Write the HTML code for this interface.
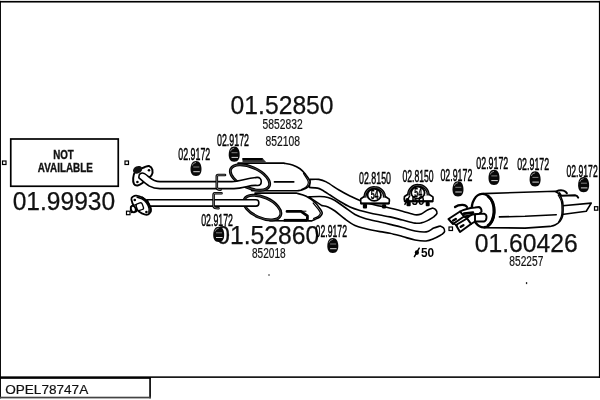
<!DOCTYPE html>
<html><head><meta charset="utf-8">
<style>
html,body{margin:0;padding:0;background:#fff;}
body{width:600px;height:400px;overflow:hidden;font-family:"Liberation Sans",sans-serif;}
svg{display:block;position:absolute;left:0;top:0;will-change:transform;}
text{font-family:"Liberation Sans",sans-serif;fill:#111;}
.big{font-size:25.2px;stroke:#111;stroke-width:0.25;}
.sm{font-size:13.8px;fill:#111;stroke:#111;stroke-width:0.2;}
.lb{font-size:16.3px;stroke:#000;stroke-width:0.45;fill:#000;}
.p{fill:#fff;stroke:#000;stroke-width:1.6;stroke-linejoin:round;stroke-linecap:round;}
.l{fill:none;stroke:#000;stroke-width:1.6;stroke-linejoin:round;stroke-linecap:round;}
</style></head><body>
<svg width="600" height="400" viewBox="0 0 600 400">
<rect x="0" y="0" width="600" height="400" fill="#fff"/>
<rect x="0" y="0.9" width="600" height="1.65" fill="#000"/>
<rect x="0" y="0.9" width="0.95" height="397.5" fill="#000"/>
<rect x="598.9" y="0.9" width="1.1" height="377" fill="#000"/>
<rect x="0" y="376.35" width="600" height="1.55" fill="#000"/>
<rect x="0" y="377" width="150.9" height="1.85" fill="#000"/>
<rect x="149.25" y="377" width="1.65" height="21.3" fill="#000"/>
<rect x="0" y="396.7" width="150.9" height="1.7" fill="#444"/>
<text x="5.2" y="393.7" font-size="13.6" stroke="#111" stroke-width="0.2" textLength="83" lengthAdjust="spacingAndGlyphs">OPEL78747A</text>
<rect x="10.75" y="139" width="107.5" height="47.25" fill="#fff" stroke="#000" stroke-width="1.7"/>
<text x="53.2" y="159.1" font-size="12.2" font-weight="bold" stroke="#111" stroke-width="0.35" textLength="20.6" lengthAdjust="spacingAndGlyphs">NOT</text>
<text x="37.8" y="171.8" font-size="12.2" font-weight="bold" stroke="#111" stroke-width="0.35" textLength="55" lengthAdjust="spacingAndGlyphs">AVAILABLE</text>
<text class="big" x="12.7" y="210.2" textLength="102.5" lengthAdjust="spacingAndGlyphs">01.99930</text>
<g fill="#fff" stroke="#000" stroke-width="1.2">
<rect x="2.5" y="161" width="3.5" height="3.5"/>
<rect x="125" y="161" width="3.5" height="3.5"/>
<rect x="126.5" y="211.2" width="3.5" height="3.5"/>
<rect x="449" y="227" width="3.5" height="3.5"/>
<rect x="594.5" y="206.7" width="3.3" height="3.5"/>
</g>
<text class="big" x="230.6" y="114.3" textLength="103" lengthAdjust="spacingAndGlyphs">01.52850</text>
<text class="sm" x="262.6" y="128.6" textLength="40" lengthAdjust="spacingAndGlyphs">5852832</text>
<text class="sm" x="265.6" y="146" textLength="34.4" lengthAdjust="spacingAndGlyphs">852108</text>
<text class="big" x="216.3" y="244.1" textLength="103" lengthAdjust="spacingAndGlyphs">01.52860</text>
<text class="sm" x="252" y="257.6" textLength="33.6" lengthAdjust="spacingAndGlyphs">852018</text>
<text class="big" x="474.8" y="252.2" textLength="103" lengthAdjust="spacingAndGlyphs">01.60426</text>
<text class="sm" x="509.3" y="266" textLength="34" lengthAdjust="spacingAndGlyphs">852257</text>

<text class="lb" x="178.3" y="159.5" textLength="32.0" lengthAdjust="spacingAndGlyphs">02.9172</text>
<text class="lb" x="217.0" y="145.8" textLength="32.0" lengthAdjust="spacingAndGlyphs">02.9172</text>
<text class="lb" x="201.2" y="225.6" textLength="31.8" lengthAdjust="spacingAndGlyphs">02.9172</text>
<text class="lb" x="315.6" y="236.6" textLength="31.4" lengthAdjust="spacingAndGlyphs">02.9172</text>
<text class="lb" x="359.0" y="183.6" textLength="32.0" lengthAdjust="spacingAndGlyphs">02.8150</text>
<text class="lb" x="402.4" y="182.0" textLength="31.2" lengthAdjust="spacingAndGlyphs">02.8150</text>
<text class="lb" x="440.4" y="180.7" textLength="31.9" lengthAdjust="spacingAndGlyphs">02.9172</text>
<text class="lb" x="476.3" y="169.2" textLength="32.0" lengthAdjust="spacingAndGlyphs">02.9172</text>
<text class="lb" x="517.2" y="170.2" textLength="32.0" lengthAdjust="spacingAndGlyphs">02.9172</text>
<text class="lb" x="566.5" y="176.7" textLength="31.2" lengthAdjust="spacingAndGlyphs">02.9172</text>
<defs><g id="rub">
<path d="M0 -7.6 C3.6 -7.6 5.5 -4.2 5.5 0.6 C5.5 4.2 4.3 7.6 0 7.6 C-4.3 7.6 -5.5 4.2 -5.5 0.6 C-5.5 -4.2 -3.6 -7.6 0 -7.6Z" fill="#080808"/>
<path d="M-2.7 -1.5 H3.3" stroke="#ccc" stroke-width="0.6" fill="none"/>
<path d="M-2.7 3.2 H3.8" stroke="#eee" stroke-width="0.9" fill="none"/>
<path d="M-3.8 -2.9 Q-3.4 -5.5 0 -6.1" stroke="#bbb" stroke-width="0.7" fill="none"/>
</g></defs>
<path class="p" d="M310.00 179.40 C311.46 179.40 316.04 178.98 318.75 179.40 C321.46 179.82 322.88 180.13 326.25 181.90 C329.62 183.67 335.04 187.65 339.00 190.00 C342.96 192.35 346.50 194.25 350.00 196.00 C353.50 197.75 355.83 199.00 360.00 200.50 C364.17 202.00 370.42 203.83 375.00 205.00 C379.58 206.17 382.92 206.46 387.50 207.50 C392.08 208.54 397.92 210.04 402.50 211.25 C407.08 212.46 411.88 214.29 415.00 214.75 C418.12 215.21 419.17 214.79 421.25 214.00 C423.33 213.21 425.62 210.98 427.50 210.00 C429.38 209.02 431.67 208.42 432.50 208.10 C433.02 208.35 434.85 208.75 435.60 209.60 C436.35 210.45 437.31 211.98 437.00 213.20 C436.69 214.42 434.29 216.28 433.75 216.90 C432.71 217.52 429.58 219.60 427.50 220.60 C425.42 221.60 423.33 222.48 421.25 222.90 C419.17 223.32 418.12 223.58 415.00 223.10 C411.88 222.62 406.67 221.03 402.50 220.00 C398.33 218.97 393.75 217.73 390.00 216.90 C386.25 216.07 383.33 215.65 380.00 215.00 C376.67 214.35 373.33 213.75 370.00 213.00 C366.67 212.25 363.33 211.50 360.00 210.50 C356.67 209.50 353.33 208.50 350.00 207.00 C346.67 205.50 343.33 203.50 340.00 201.50 C336.67 199.50 333.00 196.92 330.00 195.00 C327.00 193.08 324.08 191.15 322.00 190.00 C319.92 188.85 319.60 188.52 317.50 188.10 C315.40 187.68 310.75 187.60 309.40 187.50 Z"/>
<path class="p" d="M238 163.1 L283.75 163.1 C285.21 163.42 289.79 164.06 292.50 165.00 C295.21 165.94 297.82 167.18 300.00 168.75 C302.18 170.32 304.03 172.53 305.60 174.40 C307.17 176.28 308.67 178.65 309.40 180.00 C310.13 181.35 310.23 181.35 310.00 182.50 C309.77 183.65 309.25 185.68 308.00 186.90 C306.75 188.12 304.25 189.15 302.50 189.80 C300.75 190.45 298.33 190.63 297.50 190.80 L252 190.8 Z"/>
<path class="l" d="M303.50 173.50 C304.18 174.58 306.80 178.42 307.60 180.00 C308.40 181.58 308.50 181.90 308.30 183.00 C308.10 184.10 307.53 185.50 306.40 186.60 C305.27 187.70 302.32 189.10 301.50 189.60" style="stroke-width:1.2"/>
<path class="l" d="M274.4 181.9 H293.75"/>
<path d="M242.5 158 H262.5 L266.5 162.6 H242.5 Z" fill="#3a3a3a" stroke="none"/>
<path d="M242.5 159.1 H262.5" stroke="#000" stroke-width="2.2" fill="none"/>
<path class="p" d="M308.75 196.90 C310.62 196.83 316.79 196.40 320.00 196.50 C323.21 196.60 325.50 196.83 328.00 197.50 C330.50 198.17 332.17 198.83 335.00 200.50 C337.83 202.17 341.67 205.17 345.00 207.50 C348.33 209.83 351.67 212.67 355.00 214.50 C358.33 216.33 360.83 217.25 365.00 218.50 C369.17 219.75 375.83 221.02 380.00 222.00 C384.17 222.98 386.25 223.48 390.00 224.40 C393.75 225.32 398.33 226.40 402.50 227.50 C406.67 228.60 411.04 230.27 415.00 231.00 C418.96 231.73 423.12 232.38 426.25 231.90 C429.38 231.42 431.46 229.08 433.75 228.10 C436.04 227.12 438.96 226.35 440.00 226.00 C440.57 226.30 442.63 226.88 443.40 227.80 C444.17 228.72 444.83 230.40 444.60 231.50 C444.37 232.60 442.43 233.92 442.00 234.40 C440.67 235.10 436.67 237.50 434.00 238.60 C431.33 239.70 429.17 240.77 426.00 241.00 C422.83 241.23 418.92 240.75 415.00 240.00 C411.08 239.25 406.67 237.63 402.50 236.50 C398.33 235.37 393.75 234.02 390.00 233.20 C386.25 232.38 384.17 232.38 380.00 231.60 C375.83 230.82 369.17 229.52 365.00 228.50 C360.83 227.48 358.33 227.08 355.00 225.50 C351.67 223.92 348.33 221.42 345.00 219.00 C341.67 216.58 337.83 213.00 335.00 211.00 C332.17 209.00 330.18 207.90 328.00 207.00 C325.82 206.10 322.92 205.83 321.90 205.60 Z"/>
<path class="p" d="M255 193.1 L296.25 193.1 C297.92 193.62 303.12 194.68 306.25 196.25 C309.38 197.82 312.71 200.42 315.00 202.50 C317.29 204.58 318.79 206.98 320.00 208.75 C321.21 210.52 322.25 211.74 322.25 213.10 C322.25 214.46 321.21 215.85 320.00 216.90 C318.79 217.95 316.46 218.73 315.00 219.40 C313.54 220.07 311.88 220.65 311.25 220.90 L270 220.8 Z"/>
<path class="l" d="M313.20 203.00 C314.03 204.03 317.00 207.52 318.20 209.20 C319.40 210.88 320.37 211.93 320.40 213.10 C320.43 214.27 319.53 215.28 318.40 216.20 C317.27 217.12 314.40 218.20 313.60 218.60" style="stroke-width:1.2"/>
<path d="M283.75 218.9 H307 V221.6 H283.75 Z" fill="#000"/>
<path class="l" d="M287 211.4 H301 L307.4 215.8 V219.5" style="stroke-width:2.8"/>
<path class="l" d="M301 211.2 H306" style="stroke-width:1"/>
<ellipse cx="250.00" cy="177.50" rx="21.00" ry="10.30" transform="rotate(24 250.00 177.50)" fill="#fff" stroke="#000" stroke-width="2.9"/>
<ellipse cx="250.00" cy="177.50" rx="21.00" ry="10.30" transform="rotate(24 250.00 177.50)" fill="none" stroke="#777" stroke-width="0.5"/>
<ellipse cx="262.30" cy="207.60" rx="19.80" ry="10.30" transform="rotate(24 262.30 207.60)" fill="#fff" stroke="#000" stroke-width="2.9"/>
<ellipse cx="262.30" cy="207.60" rx="19.80" ry="10.30" transform="rotate(24 262.30 207.60)" fill="none" stroke="#777" stroke-width="0.5"/>
<path class="p" d="M149.00 166.00 C150.32 166.43 152.00 168.17 152.40 169.75 C152.80 171.33 152.30 174.04 151.40 175.50 C150.50 176.96 148.48 177.25 147.00 178.50 C145.52 179.75 144.04 181.85 142.50 183.00 C140.96 184.15 139.17 185.23 137.75 185.40 C136.33 185.57 134.76 185.23 134.00 184.00 C133.24 182.77 133.03 180.00 133.20 178.00 C133.37 176.00 134.03 173.42 135.00 172.00 C135.97 170.58 137.42 170.30 139.00 169.50 C140.58 168.70 142.83 167.78 144.50 167.20 C146.17 166.62 147.68 165.57 149.00 166.00Z" style="stroke-width:2"/>
<ellipse cx="137.6" cy="169.8" rx="4.8" ry="3.6" transform="rotate(-25 137.6 169.8)" fill="#111"/>
<circle cx="149" cy="170.2" r="1.3" fill="#000"/><circle cx="137.4" cy="182" r="1.3" fill="#000"/>
<path class="p" d="M138.9 177.8 C138.5 173.5 141.5 172 144.5 173.6 C149 176 152 181.6 160 181.6 H232 C240 181.6 246 178.2 257 177.4 C262.6 177 262.6 185.2 257.5 185.5 C250 184.4 244 188.6 234 188.6 H160 C150 188.6 146 184 138.9 177.8 Z"/>
<path class="p" d="M131.40 199.50 C131.15 197.77 132.19 197.25 133.00 196.60 C133.81 195.95 134.71 195.45 136.25 195.60 C137.79 195.75 140.38 196.43 142.25 197.50 C144.12 198.57 146.12 200.25 147.50 202.00 C148.88 203.75 150.00 206.38 150.50 208.00 C151.00 209.62 150.88 210.68 150.50 211.75 C150.12 212.82 149.25 213.96 148.25 214.40 C147.25 214.84 146.00 214.84 144.50 214.40 C143.00 213.96 140.92 212.98 139.25 211.75 C137.58 210.52 135.81 209.04 134.50 207.00 C133.19 204.96 131.65 201.23 131.40 199.50Z" style="stroke-width:1.8"/>
<path class="l" d="M137.00 197.20 C137.83 197.50 140.40 198.03 142.00 199.00 C143.60 199.97 145.43 201.43 146.60 203.00 C147.77 204.57 148.63 206.83 149.00 208.40 C149.37 209.97 148.83 211.73 148.80 212.40" style="stroke-width:1.4"/>
<rect x="136.6" y="203.2" width="6.4" height="7" rx="1.8" transform="rotate(-20 139.8 206.7)" class="p" style="stroke-width:1.3"/>
<path class="p" d="M136 204.5 L131.5 206 Q129.5 209 131.5 212.5 L136.5 211.5 Z" style="stroke-width:1.3"/>
<ellipse cx="133.3" cy="209" rx="2.3" ry="3.3" transform="rotate(-20 133.3 209)" fill="#fff" stroke="#000" stroke-width="1.8"/>
<circle cx="134.75" cy="200" r="1.3" fill="#000"/><circle cx="146.4" cy="212" r="1.3" fill="#000"/>
<path class="p" d="M147 199.8 H256 C259.8 199.8 259.8 206.1 256 206.1 H150 Z"/>
<path class="l" d="M142.25 197.50 C143.12 198.25 146.12 200.25 147.50 202.00 C148.88 203.75 150.00 206.38 150.50 208.00 C151.00 209.62 150.50 211.12 150.50 211.75" style="stroke-width:2"/>
<path class="l" d="M225 175 H218 Q216.8 175 216.8 176.5 V187.5 Q216.8 189.6 220.5 189.8" style="stroke-width:2.6"/>
<path class="l" d="M225 175 H218 Q216.8 175 216.8 176.5 V187.5 Q216.8 189.6 220.5 189.8" style="stroke:#bbb;stroke-width:0.6"/>
<path class="l" d="M221.5 193.3 H215 Q213.6 193.3 213.6 195 V206 Q213.6 208.2 218.5 208.3" style="stroke-width:2.6"/>
<path class="l" d="M221.5 193.3 H215 Q213.6 193.3 213.6 195 V206 Q213.6 208.2 218.5 208.3" style="stroke:#bbb;stroke-width:0.6"/>
<path class="p" d="M560 206 L591.25 203.1 L586.25 211.25 L560 214.8 Z"/>
<path class="p" d="M483 193.6 L555 191.25 C555.73 191.78 558.15 192.73 559.40 194.40 C560.65 196.07 561.88 198.65 562.50 201.25 C563.12 203.85 563.10 207.50 563.10 210.00 C563.10 212.50 563.02 214.38 562.50 216.25 C561.98 218.12 561.25 219.79 560.00 221.25 C558.75 222.71 556.67 224.14 555.00 225.00 C553.33 225.86 550.83 226.17 550.00 226.40 L525 228.1 L484 227.6 Z"/>
<path class="l" d="M558.20 195.00 C558.73 196.10 560.77 199.10 561.40 201.60 C562.03 204.10 562.02 207.52 562.00 210.00 C561.98 212.48 561.87 214.50 561.30 216.50 C560.73 218.50 559.05 221.08 558.60 222.00" style="stroke-width:1.2"/>
<path class="l" d="M499.4 216.9 L525 216.25 L556.25 214.75"/>
<path class="l" d="M556.25 191.4 Q560 189.6 563.5 190.6 Q566 191.4 566.9 193.3" style="stroke-width:2"/>
<path class="l" d="M559.4 193 L561.25 195.8 L575 195.2 Q577.4 195.6 578.2 197.6" style="stroke-width:2"/>
<ellipse cx="483" cy="210.6" rx="11.3" ry="16.7" transform="rotate(-4 483 210.6)" fill="#fff" stroke="#000" stroke-width="2.3"/>
<path d="M487.5 195.6 Q494.6 201 494 212 Q493.4 221.6 487.6 226" fill="none" stroke="#000" stroke-width="3"/>
<path class="l" d="M455 207 Q458 204.8 462.5 204.9 Q466 205.2 467 207" style="stroke-width:2.2"/>
<path class="p" d="M460 211.5 Q466 208.4 475 207.5 L479 207 Q481.6 208 481.6 211.6 L479 214 L464 216.5 Z" style="stroke-width:1.9"/>
<path class="p" d="M448.5 219 L460 211.5 L464 216.5 L453 224 Z" style="stroke-width:2"/>
<path class="p" d="M467 218.5 Q470 214.5 475 214.3 L484 213.6 Q486.8 214.5 486.5 217.5 Q486.4 220.8 484 221.5 H475 L471 224 Z" style="stroke-width:1.9"/>
<path class="l" d="M464 213.6 L473 212.6" style="stroke-width:2.6"/>
<path class="l" d="M475 214.3 V221.5" style="stroke-width:1.9"/>
<path class="p" d="M456 225 L467 218.5 L471 224 L460 232 Z" style="stroke-width:2"/>
<path class="l" d="M453.2 220.6 l2.6 -1.6 M460.8 226.8 l2.6 -1.6" style="stroke-width:2.4"/>
<path class="l" d="M451 221.8 L457 225.6" style="stroke-width:1.6"/>
<path class="l" d="M464 216.5 L467 218.5" style="stroke-width:1.6"/>
<g transform="translate(374.25 194.90)">
<path class="p" d="M-10 1.6 L-13.4 3.8 Q-14 6 -13.2 8.6 H14.6 Q15.6 6.4 15 4.2 L11 1.6 Z" style="stroke-width:1.7"/>
<path d="M-9.3 2.6 A9.3 9.6 0 0 1 0.3 -7.4 A10 9.6 0 0 1 10.3 2.6" fill="#fff" stroke="#000" stroke-width="3" stroke-linecap="butt"/>
<path d="M-9.3 2.6 A9.3 9.6 0 0 1 0.3 -7.4 A10 9.6 0 0 1 10.3 2.6" fill="none" stroke="#999" stroke-width="0.5"/>
<ellipse cx="0" cy="0" rx="6.7" ry="6" class="p" style="stroke-width:1.8"/>
<path class="l" d="M-13 8.6 H14.6" style="stroke-width:2"/>
<rect x="-11.4" y="9" width="4.2" height="4.6" rx="1" fill="#000"/><rect x="7.8" y="9.4" width="4" height="4.2" rx="1" fill="#000"/>
<text x="-3.6" y="4.4" font-size="12.4" font-weight="bold" textLength="7.8" stroke="#000" stroke-width="0.3" lengthAdjust="spacingAndGlyphs" style="fill:#000">54</text>
</g>
<g transform="translate(417.90 192.70)">
<path class="p" d="M-10 1.6 L-13.4 3.8 Q-14 6 -13.2 8.6 H14.6 Q15.6 6.4 15 4.2 L11 1.6 Z" style="stroke-width:1.7"/>
<path d="M-9.3 2.6 A9.3 9.6 0 0 1 0.3 -7.4 A10 9.6 0 0 1 10.3 2.6" fill="#fff" stroke="#000" stroke-width="3" stroke-linecap="butt"/>
<path d="M-9.3 2.6 A9.3 9.6 0 0 1 0.3 -7.4 A10 9.6 0 0 1 10.3 2.6" fill="none" stroke="#999" stroke-width="0.5"/>
<ellipse cx="0" cy="0" rx="6.7" ry="6" class="p" style="stroke-width:1.8"/>
<path class="l" d="M-13 8.6 H14.6" style="stroke-width:2"/>
<rect x="-11.4" y="9" width="4.2" height="4.6" rx="1" fill="#000"/><rect x="7.8" y="9.4" width="4" height="4.2" rx="1" fill="#000"/>
<text x="-3.6" y="4.4" font-size="12.4" font-weight="bold" textLength="7.8" stroke="#000" stroke-width="0.3" lengthAdjust="spacingAndGlyphs" style="fill:#000">54</text>
</g>
<use href="#rub" x="196.0" y="168.5"/>
<use href="#rub" x="234.2" y="154.2"/>
<use href="#rub" x="218.7" y="234.3"/>
<use href="#rub" x="332.8" y="245.5"/>
<use href="#rub" x="458.0" y="188.8"/>
<use href="#rub" x="494.0" y="177.4"/>
<use href="#rub" x="535.1" y="178.9"/>
<use href="#rub" x="583.6" y="184.7"/>
<g transform="translate(0.00 0.00)">
<text x="421" y="257" font-size="12.5" font-weight="bold" textLength="13.2" lengthAdjust="spacingAndGlyphs" style="fill:#000">50</text>
<ellipse cx="416.9" cy="252.6" rx="2.1" ry="2.3" fill="#000"/><path d="M414.4 256.6 L419.2 248.2" stroke="#000" stroke-width="1.5" stroke-linecap="round"/>
</g>
<g transform="translate(-9.50 -52.20)">
<text x="421" y="257" font-size="12.5" font-weight="bold" textLength="13.2" lengthAdjust="spacingAndGlyphs" style="fill:#000">50</text>
<ellipse cx="416.9" cy="252.6" rx="2.1" ry="2.3" fill="#000"/><path d="M414.4 256.6 L419.2 248.2" stroke="#000" stroke-width="1.5" stroke-linecap="round"/>
</g>
<rect x="268.2" y="274.2" width="1.6" height="1.6" fill="#666"/><rect x="525.9" y="282.1" width="1.3" height="2" fill="#222"/>
</svg>
</body></html>
